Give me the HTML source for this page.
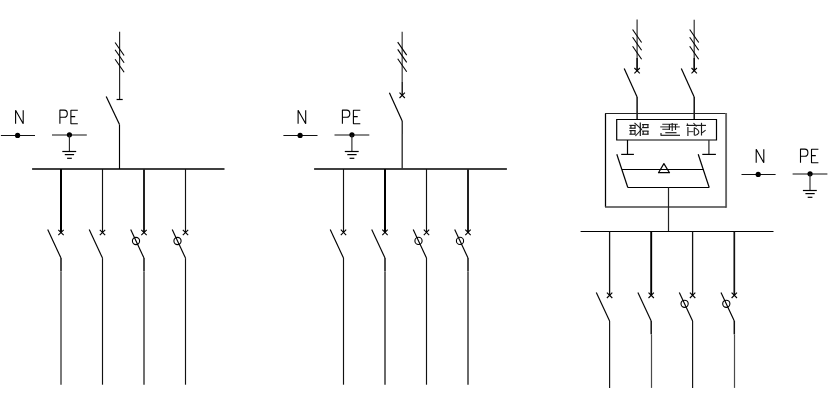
<!DOCTYPE html>
<html><head><meta charset="utf-8"><style>
html,body{margin:0;padding:0;background:#fff;width:837px;height:418px;overflow:hidden;font-family:"Liberation Sans",sans-serif;}
svg{display:block}
</style></head><body>
<svg width="837" height="418" viewBox="0 0 837 418" stroke-linecap="butt">
<rect width="837" height="418" fill="#fff"/>
<path d="M15.6,123.7 V110.3 L23.2,123.7 V110.3" stroke="#000" stroke-width="1.1" fill="none" stroke-linejoin="bevel"/>
<line x1="0.90" y1="135.50" x2="35.00" y2="135.50" stroke="#111" stroke-width="1.1"/>
<circle cx="17.60" cy="135.40" r="2.6" stroke="#000" stroke-width="0" fill="#000"/>
<path d="M59.9,123.7 V110.1 H64.2 Q67.3,110.1 67.3,113.7 Q67.3,117.3 64.2,117.3 H59.9" stroke="#000" stroke-width="1.1" fill="none" stroke-linejoin="bevel"/>
<path d="M77.8,110.2 H70.9 V123.7 H77.8 M70.9,116.6 H75.2" stroke="#000" stroke-width="1.1" fill="none" stroke-linejoin="bevel"/>
<line x1="52.00" y1="135.00" x2="86.80" y2="135.00" stroke="#111" stroke-width="1.1"/>
<circle cx="69.45" cy="134.85" r="2.6" stroke="#000" stroke-width="0" fill="#000"/>
<line x1="69.40" y1="135.00" x2="69.40" y2="151.50" stroke="#222" stroke-width="1.1"/>
<line x1="62.30" y1="151.50" x2="76.20" y2="151.50" stroke="#000" stroke-width="1.2"/>
<line x1="64.80" y1="154.60" x2="74.10" y2="154.60" stroke="#000" stroke-width="1.2"/>
<line x1="67.10" y1="158.30" x2="71.80" y2="158.30" stroke="#000" stroke-width="1.2"/>
<line x1="32.10" y1="169.00" x2="224.50" y2="169.00" stroke="#000" stroke-width="1.3"/>
<line x1="119.60" y1="31.80" x2="119.60" y2="99.50" stroke="#222" stroke-width="1.15"/>
<line x1="115.10" y1="42.50" x2="124.10" y2="55.50" stroke="#000" stroke-width="1.1"/>
<line x1="115.10" y1="49.70" x2="124.10" y2="62.70" stroke="#000" stroke-width="1.1"/>
<line x1="115.10" y1="59.30" x2="124.10" y2="72.30" stroke="#000" stroke-width="1.1"/>
<line x1="116.60" y1="99.50" x2="122.70" y2="99.50" stroke="#000" stroke-width="1.2"/>
<line x1="106.20" y1="96.40" x2="119.50" y2="124.50" stroke="#000" stroke-width="1.2"/>
<line x1="119.50" y1="124.50" x2="119.50" y2="169.00" stroke="#000" stroke-width="1.15"/>
<line x1="61.00" y1="169.00" x2="61.00" y2="232.50" stroke="#000" stroke-width="2.0"/>
<line x1="58.30" y1="229.80" x2="63.70" y2="235.20" stroke="#000" stroke-width="1.1"/>
<line x1="58.30" y1="235.20" x2="63.70" y2="229.80" stroke="#000" stroke-width="1.1"/>
<line x1="47.70" y1="229.60" x2="61.00" y2="258.10" stroke="#000" stroke-width="1.15"/>
<line x1="61.00" y1="258.10" x2="61.00" y2="271.50" stroke="#111" stroke-width="1.5"/>
<line x1="61.00" y1="271.50" x2="61.00" y2="384.70" stroke="#7a7a7a" stroke-width="2.0"/>
<line x1="102.50" y1="169.00" x2="102.50" y2="232.50" stroke="#111" stroke-width="1.15"/>
<line x1="99.80" y1="229.80" x2="105.20" y2="235.20" stroke="#000" stroke-width="1.1"/>
<line x1="99.80" y1="235.20" x2="105.20" y2="229.80" stroke="#000" stroke-width="1.1"/>
<line x1="89.20" y1="229.60" x2="102.50" y2="258.10" stroke="#000" stroke-width="1.15"/>
<line x1="102.50" y1="258.10" x2="102.50" y2="384.70" stroke="#111" stroke-width="1.15"/>
<line x1="144.00" y1="169.00" x2="144.00" y2="232.50" stroke="#222" stroke-width="2.0"/>
<line x1="141.30" y1="229.80" x2="146.70" y2="235.20" stroke="#000" stroke-width="1.1"/>
<line x1="141.30" y1="235.20" x2="146.70" y2="229.80" stroke="#000" stroke-width="1.1"/>
<line x1="130.70" y1="229.60" x2="144.00" y2="258.10" stroke="#000" stroke-width="1.15"/>
<circle cx="136.00" cy="241.00" r="3.6" stroke="#000" stroke-width="1.1" fill="none"/>
<line x1="144.00" y1="258.10" x2="144.00" y2="271.50" stroke="#111" stroke-width="1.5"/>
<line x1="144.00" y1="271.50" x2="144.00" y2="384.70" stroke="#707070" stroke-width="2.0"/>
<line x1="185.50" y1="169.00" x2="185.50" y2="232.50" stroke="#111" stroke-width="1.15"/>
<line x1="182.80" y1="229.80" x2="188.20" y2="235.20" stroke="#000" stroke-width="1.1"/>
<line x1="182.80" y1="235.20" x2="188.20" y2="229.80" stroke="#000" stroke-width="1.1"/>
<line x1="172.20" y1="229.60" x2="185.50" y2="258.10" stroke="#000" stroke-width="1.15"/>
<circle cx="177.50" cy="241.00" r="3.6" stroke="#000" stroke-width="1.1" fill="none"/>
<line x1="185.50" y1="258.10" x2="185.50" y2="384.70" stroke="#111" stroke-width="1.15"/>
<path d="M298.1,123.7 V110.3 L305.7,123.7 V110.3" stroke="#000" stroke-width="1.1" fill="none" stroke-linejoin="bevel"/>
<line x1="283.40" y1="135.50" x2="317.50" y2="135.50" stroke="#111" stroke-width="1.1"/>
<circle cx="300.10" cy="135.40" r="2.6" stroke="#000" stroke-width="0" fill="#000"/>
<path d="M342.4,123.7 V110.1 H346.7 Q349.8,110.1 349.8,113.7 Q349.8,117.3 346.7,117.3 H342.4" stroke="#000" stroke-width="1.1" fill="none" stroke-linejoin="bevel"/>
<path d="M360.3,110.2 H353.4 V123.7 H360.3 M353.4,116.6 H357.7" stroke="#000" stroke-width="1.1" fill="none" stroke-linejoin="bevel"/>
<line x1="334.50" y1="135.00" x2="369.30" y2="135.00" stroke="#111" stroke-width="1.1"/>
<circle cx="351.95" cy="134.85" r="2.6" stroke="#000" stroke-width="0" fill="#000"/>
<line x1="351.90" y1="135.00" x2="351.90" y2="151.50" stroke="#222" stroke-width="1.1"/>
<line x1="344.80" y1="151.50" x2="358.70" y2="151.50" stroke="#000" stroke-width="1.2"/>
<line x1="347.30" y1="154.60" x2="356.60" y2="154.60" stroke="#000" stroke-width="1.2"/>
<line x1="349.60" y1="158.30" x2="354.30" y2="158.30" stroke="#000" stroke-width="1.2"/>
<line x1="314.10" y1="169.00" x2="506.90" y2="169.00" stroke="#000" stroke-width="1.3"/>
<line x1="402.20" y1="31.80" x2="402.20" y2="82.00" stroke="#555" stroke-width="1.4"/>
<line x1="402.20" y1="82.00" x2="402.20" y2="95.30" stroke="#000" stroke-width="1.3"/>
<line x1="397.70" y1="42.10" x2="406.70" y2="55.10" stroke="#000" stroke-width="1.1"/>
<line x1="397.70" y1="49.40" x2="406.70" y2="62.40" stroke="#000" stroke-width="1.1"/>
<line x1="397.70" y1="58.80" x2="406.70" y2="71.80" stroke="#000" stroke-width="1.1"/>
<line x1="399.50" y1="92.60" x2="404.90" y2="98.00" stroke="#000" stroke-width="1.1"/>
<line x1="399.50" y1="98.00" x2="404.90" y2="92.60" stroke="#000" stroke-width="1.1"/>
<line x1="389.40" y1="92.70" x2="402.20" y2="120.90" stroke="#000" stroke-width="1.2"/>
<line x1="402.20" y1="120.90" x2="402.20" y2="134.00" stroke="#000" stroke-width="1.15"/>
<line x1="402.20" y1="134.00" x2="402.20" y2="169.00" stroke="#333" stroke-width="1.4"/>
<line x1="343.50" y1="169.00" x2="343.50" y2="232.40" stroke="#111" stroke-width="1.15"/>
<line x1="340.80" y1="229.70" x2="346.20" y2="235.10" stroke="#000" stroke-width="1.1"/>
<line x1="340.80" y1="235.10" x2="346.20" y2="229.70" stroke="#000" stroke-width="1.1"/>
<line x1="330.20" y1="229.50" x2="343.50" y2="258.00" stroke="#000" stroke-width="1.15"/>
<line x1="343.50" y1="258.00" x2="343.50" y2="384.70" stroke="#111" stroke-width="1.15"/>
<line x1="385.00" y1="169.00" x2="385.00" y2="232.40" stroke="#000" stroke-width="2.0"/>
<line x1="382.30" y1="229.70" x2="387.70" y2="235.10" stroke="#000" stroke-width="1.1"/>
<line x1="382.30" y1="235.10" x2="387.70" y2="229.70" stroke="#000" stroke-width="1.1"/>
<line x1="371.70" y1="229.50" x2="385.00" y2="258.00" stroke="#000" stroke-width="1.15"/>
<line x1="385.00" y1="258.00" x2="385.00" y2="271.40" stroke="#111" stroke-width="1.5"/>
<line x1="385.00" y1="271.40" x2="385.00" y2="384.70" stroke="#6a6a6a" stroke-width="2.0"/>
<line x1="426.50" y1="169.00" x2="426.50" y2="232.40" stroke="#111" stroke-width="1.15"/>
<line x1="423.80" y1="229.70" x2="429.20" y2="235.10" stroke="#000" stroke-width="1.1"/>
<line x1="423.80" y1="235.10" x2="429.20" y2="229.70" stroke="#000" stroke-width="1.1"/>
<line x1="413.20" y1="229.50" x2="426.50" y2="258.00" stroke="#000" stroke-width="1.15"/>
<circle cx="418.50" cy="240.90" r="3.6" stroke="#000" stroke-width="1.1" fill="none"/>
<line x1="426.50" y1="258.00" x2="426.50" y2="384.70" stroke="#111" stroke-width="1.15"/>
<line x1="468.00" y1="169.00" x2="468.00" y2="232.40" stroke="#222" stroke-width="2.0"/>
<line x1="465.30" y1="229.70" x2="470.70" y2="235.10" stroke="#000" stroke-width="1.1"/>
<line x1="465.30" y1="235.10" x2="470.70" y2="229.70" stroke="#000" stroke-width="1.1"/>
<line x1="454.70" y1="229.50" x2="468.00" y2="258.00" stroke="#000" stroke-width="1.15"/>
<circle cx="460.00" cy="240.90" r="3.6" stroke="#000" stroke-width="1.1" fill="none"/>
<line x1="468.00" y1="258.00" x2="468.00" y2="271.40" stroke="#111" stroke-width="1.5"/>
<line x1="468.00" y1="271.40" x2="468.00" y2="384.70" stroke="#6a6a6a" stroke-width="2.0"/>
<path d="M756.2,162.7 V149.3 L763.8000000000001,162.7 V149.3" stroke="#000" stroke-width="1.1" fill="none" stroke-linejoin="bevel"/>
<line x1="741.50" y1="174.50" x2="775.60" y2="174.50" stroke="#111" stroke-width="1.1"/>
<circle cx="758.20" cy="174.40" r="2.6" stroke="#000" stroke-width="0" fill="#000"/>
<path d="M800.5,162.7 V149.1 H804.8000000000001 Q807.9,149.1 807.9,152.7 Q807.9,156.3 804.8000000000001,156.3 H800.5" stroke="#000" stroke-width="1.1" fill="none" stroke-linejoin="bevel"/>
<path d="M818.4,149.2 H811.5 V162.7 H818.4 M811.5,155.6 H815.8000000000001" stroke="#000" stroke-width="1.1" fill="none" stroke-linejoin="bevel"/>
<line x1="792.60" y1="174.00" x2="827.40" y2="174.00" stroke="#111" stroke-width="1.1"/>
<circle cx="810.05" cy="173.85" r="2.6" stroke="#000" stroke-width="0" fill="#000"/>
<line x1="810.00" y1="174.00" x2="810.00" y2="190.50" stroke="#222" stroke-width="1.1"/>
<line x1="802.90" y1="190.50" x2="816.80" y2="190.50" stroke="#000" stroke-width="1.2"/>
<line x1="805.40" y1="193.60" x2="814.70" y2="193.60" stroke="#000" stroke-width="1.2"/>
<line x1="807.70" y1="197.30" x2="812.40" y2="197.30" stroke="#000" stroke-width="1.2"/>
<line x1="637.10" y1="19.50" x2="637.10" y2="70.70" stroke="#333" stroke-width="1.2"/>
<line x1="637.10" y1="58.00" x2="637.10" y2="70.70" stroke="#000" stroke-width="1.3"/>
<line x1="632.60" y1="29.50" x2="641.60" y2="42.50" stroke="#000" stroke-width="1.1"/>
<line x1="632.60" y1="37.30" x2="641.60" y2="50.30" stroke="#000" stroke-width="1.1"/>
<line x1="632.60" y1="46.30" x2="641.60" y2="59.30" stroke="#000" stroke-width="1.1"/>
<line x1="634.40" y1="68.00" x2="639.80" y2="73.40" stroke="#000" stroke-width="1.1"/>
<line x1="634.40" y1="73.40" x2="639.80" y2="68.00" stroke="#000" stroke-width="1.1"/>
<line x1="624.20" y1="68.50" x2="637.10" y2="97.00" stroke="#000" stroke-width="1.2"/>
<line x1="637.10" y1="97.00" x2="637.10" y2="119.50" stroke="#000" stroke-width="1.4"/>
<line x1="694.20" y1="19.80" x2="694.20" y2="70.70" stroke="#333" stroke-width="1.2"/>
<line x1="694.20" y1="58.00" x2="694.20" y2="70.70" stroke="#000" stroke-width="1.3"/>
<line x1="689.70" y1="29.50" x2="698.70" y2="42.50" stroke="#000" stroke-width="1.1"/>
<line x1="689.70" y1="37.30" x2="698.70" y2="50.30" stroke="#000" stroke-width="1.1"/>
<line x1="689.70" y1="46.30" x2="698.70" y2="59.30" stroke="#000" stroke-width="1.1"/>
<line x1="691.50" y1="68.00" x2="696.90" y2="73.40" stroke="#000" stroke-width="1.1"/>
<line x1="691.50" y1="73.40" x2="696.90" y2="68.00" stroke="#000" stroke-width="1.1"/>
<line x1="681.30" y1="68.50" x2="694.20" y2="97.00" stroke="#000" stroke-width="1.2"/>
<line x1="694.20" y1="97.00" x2="694.20" y2="119.50" stroke="#000" stroke-width="1.4"/>
<line x1="605.50" y1="113.50" x2="605.50" y2="207.00" stroke="#000" stroke-width="1.25"/>
<line x1="605.00" y1="113.50" x2="726.10" y2="113.50" stroke="#222" stroke-width="1.2"/>
<line x1="726.10" y1="113.00" x2="726.10" y2="207.80" stroke="#666" stroke-width="1.9"/>
<line x1="605.00" y1="207.00" x2="726.10" y2="207.00" stroke="#444" stroke-width="1.6"/>
<path d="M616.7,140 V119.5 H716.5 V140 Z" stroke="#000" stroke-width="1.2" fill="none" stroke-linejoin="miter"/>
<line x1="627.50" y1="140.00" x2="627.50" y2="154.40" stroke="#000" stroke-width="1.2"/>
<line x1="621.20" y1="154.40" x2="633.90" y2="154.40" stroke="#000" stroke-width="1.2"/>
<line x1="708.90" y1="140.00" x2="708.90" y2="154.40" stroke="#333" stroke-width="1.3"/>
<line x1="702.30" y1="154.40" x2="715.90" y2="154.40" stroke="#000" stroke-width="1.2"/>
<line x1="616.80" y1="154.30" x2="627.80" y2="187.50" stroke="#000" stroke-width="1.2"/>
<line x1="698.20" y1="154.30" x2="709.20" y2="187.50" stroke="#000" stroke-width="1.2"/>
<line x1="622.00" y1="169.50" x2="703.50" y2="169.50" stroke="#000" stroke-width="1.2"/>
<line x1="627.80" y1="187.50" x2="709.20" y2="187.50" stroke="#000" stroke-width="1.2"/>
<path d="M663.9,163.6 L669.5,172.7 H658.5 Z" stroke="#000" stroke-width="1.2" fill="none" stroke-linejoin="round"/>
<line x1="668.50" y1="187.50" x2="668.50" y2="231.50" stroke="#222" stroke-width="1.2"/>
<line x1="580.60" y1="231.50" x2="773.50" y2="231.50" stroke="#000" stroke-width="1.2"/>
<line x1="609.60" y1="231.50" x2="609.60" y2="295.30" stroke="#111" stroke-width="1.3"/>
<line x1="606.90" y1="292.60" x2="612.30" y2="298.00" stroke="#000" stroke-width="1.1"/>
<line x1="606.90" y1="298.00" x2="612.30" y2="292.60" stroke="#000" stroke-width="1.1"/>
<line x1="596.30" y1="292.40" x2="609.60" y2="320.90" stroke="#000" stroke-width="1.15"/>
<line x1="609.60" y1="320.90" x2="609.60" y2="387.90" stroke="#111" stroke-width="1.15"/>
<line x1="651.20" y1="231.50" x2="651.20" y2="295.30" stroke="#000" stroke-width="1.9"/>
<line x1="648.50" y1="292.60" x2="653.90" y2="298.00" stroke="#000" stroke-width="1.1"/>
<line x1="648.50" y1="298.00" x2="653.90" y2="292.60" stroke="#000" stroke-width="1.1"/>
<line x1="637.90" y1="292.40" x2="651.20" y2="320.90" stroke="#000" stroke-width="1.15"/>
<line x1="651.20" y1="320.90" x2="651.20" y2="334.30" stroke="#111" stroke-width="1.5"/>
<line x1="651.50" y1="334.30" x2="651.50" y2="387.90" stroke="#4a4a4a" stroke-width="1.2"/>
<line x1="692.60" y1="231.50" x2="692.60" y2="295.30" stroke="#111" stroke-width="1.3"/>
<line x1="689.90" y1="292.60" x2="695.30" y2="298.00" stroke="#000" stroke-width="1.1"/>
<line x1="689.90" y1="298.00" x2="695.30" y2="292.60" stroke="#000" stroke-width="1.1"/>
<line x1="679.30" y1="292.40" x2="692.60" y2="320.90" stroke="#000" stroke-width="1.15"/>
<circle cx="684.60" cy="303.80" r="3.6" stroke="#000" stroke-width="1.1" fill="none"/>
<line x1="692.60" y1="320.90" x2="692.60" y2="387.90" stroke="#111" stroke-width="1.15"/>
<line x1="734.30" y1="231.50" x2="734.30" y2="295.30" stroke="#111" stroke-width="1.7"/>
<line x1="731.60" y1="292.60" x2="737.00" y2="298.00" stroke="#000" stroke-width="1.1"/>
<line x1="731.60" y1="298.00" x2="737.00" y2="292.60" stroke="#000" stroke-width="1.1"/>
<line x1="721.00" y1="292.40" x2="734.30" y2="320.90" stroke="#000" stroke-width="1.15"/>
<circle cx="726.30" cy="303.80" r="3.6" stroke="#000" stroke-width="1.1" fill="none"/>
<line x1="734.30" y1="320.90" x2="734.30" y2="334.30" stroke="#111" stroke-width="1.5"/>
<line x1="734.50" y1="334.30" x2="734.50" y2="387.90" stroke="#4a4a4a" stroke-width="1.2"/>
<line x1="629.40" y1="125.40" x2="635.60" y2="125.40" stroke="#1a1a1a" stroke-width="1.15"/>
<line x1="629.40" y1="128.20" x2="635.60" y2="128.20" stroke="#1a1a1a" stroke-width="1.15"/>
<line x1="629.40" y1="130.60" x2="635.60" y2="130.60" stroke="#1a1a1a" stroke-width="1.15"/>
<line x1="629.40" y1="134.20" x2="635.60" y2="134.20" stroke="#1a1a1a" stroke-width="1.15"/>
<line x1="630.90" y1="125.40" x2="630.90" y2="128.20" stroke="#1a1a1a" stroke-width="1.15"/>
<line x1="635.00" y1="125.40" x2="635.00" y2="128.20" stroke="#1a1a1a" stroke-width="1.15"/>
<line x1="630.90" y1="130.60" x2="630.90" y2="134.20" stroke="#1a1a1a" stroke-width="1.15"/>
<line x1="635.00" y1="130.60" x2="635.00" y2="134.20" stroke="#1a1a1a" stroke-width="1.15"/>
<line x1="642.10" y1="124.60" x2="648.60" y2="124.60" stroke="#1a1a1a" stroke-width="1.15"/>
<line x1="642.10" y1="127.60" x2="648.60" y2="127.60" stroke="#1a1a1a" stroke-width="1.15"/>
<line x1="642.10" y1="131.10" x2="648.60" y2="131.10" stroke="#1a1a1a" stroke-width="1.15"/>
<line x1="642.10" y1="134.20" x2="648.60" y2="134.20" stroke="#1a1a1a" stroke-width="1.15"/>
<line x1="643.20" y1="124.60" x2="643.20" y2="127.60" stroke="#1a1a1a" stroke-width="1.15"/>
<line x1="647.90" y1="124.60" x2="647.90" y2="127.60" stroke="#1a1a1a" stroke-width="1.15"/>
<line x1="643.20" y1="131.10" x2="643.20" y2="134.20" stroke="#1a1a1a" stroke-width="1.15"/>
<line x1="647.90" y1="131.10" x2="647.90" y2="134.20" stroke="#1a1a1a" stroke-width="1.15"/>
<path d="M634.5,122.8 L641.6,129.4 L635.4,136.0" stroke="#1a1a1a" stroke-width="1.05" fill="none" stroke-linejoin="miter"/>
<line x1="640.30" y1="122.60" x2="640.30" y2="136.00" stroke="#1a1a1a" stroke-width="1.2"/>
<line x1="662.30" y1="124.30" x2="677.80" y2="124.30" stroke="#444" stroke-width="1.15"/>
<line x1="660.20" y1="126.90" x2="679.80" y2="126.90" stroke="#444" stroke-width="1.15"/>
<line x1="662.30" y1="129.30" x2="669.60" y2="129.30" stroke="#444" stroke-width="1.15"/>
<line x1="665.30" y1="132.70" x2="676.50" y2="132.70" stroke="#1a1a1a" stroke-width="1.15"/>
<line x1="660.60" y1="135.30" x2="680.00" y2="135.30" stroke="#1a1a1a" stroke-width="1.15"/>
<line x1="669.40" y1="124.00" x2="669.40" y2="130.00" stroke="#1a1a1a" stroke-width="1.15"/>
<line x1="672.20" y1="123.00" x2="672.20" y2="131.00" stroke="#1a1a1a" stroke-width="1.1"/>
<line x1="675.50" y1="124.00" x2="675.50" y2="130.00" stroke="#1a1a1a" stroke-width="1.15"/>
<line x1="661.00" y1="133.00" x2="661.00" y2="135.30" stroke="#1a1a1a" stroke-width="1.15"/>
<line x1="686.40" y1="125.40" x2="706.00" y2="125.40" stroke="#1a1a1a" stroke-width="1.15"/>
<line x1="687.90" y1="127.00" x2="687.90" y2="136.00" stroke="#1a1a1a" stroke-width="1.15"/>
<line x1="688.00" y1="131.60" x2="693.50" y2="131.60" stroke="#555" stroke-width="1.15"/>
<line x1="694.30" y1="127.50" x2="694.30" y2="135.20" stroke="#1a1a1a" stroke-width="1.15"/>
<path d="M694.3,127.8 Q699.5,130 698.7,132.9 Q697.5,135.2 694.5,135.5" stroke="#1a1a1a" stroke-width="1.15" fill="none" stroke-linejoin="miter"/>
<line x1="701.50" y1="122.80" x2="701.50" y2="135.50" stroke="#1a1a1a" stroke-width="1.15"/>
<line x1="702.10" y1="132.90" x2="705.60" y2="130.10" stroke="#1a1a1a" stroke-width="1.15"/>
<line x1="693.50" y1="123.00" x2="696.50" y2="126.50" stroke="#1a1a1a" stroke-width="1.15"/>
<line x1="687.20" y1="123.60" x2="687.80" y2="125.00" stroke="#1a1a1a" stroke-width="1.15"/>
</svg>
</body></html>
